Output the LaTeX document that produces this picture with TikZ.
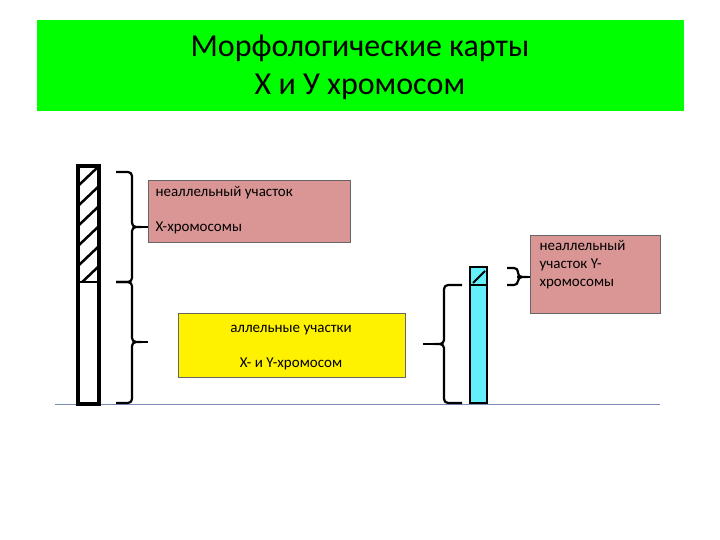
\documentclass[tikz,border=0pt]{standalone}
\usepackage{fontspec}
\setmainfont{Carlito}
\usetikzlibrary{patterns}
\begin{document}
\begin{tikzpicture}[x=1pt,y=-1pt,
  br/.style={line width=2.2pt,rounded corners=4pt},
  lbl/.style={draw=black!60,line width=0.6pt,inner sep=0pt,anchor=north west},
  tx/.style={font=\fontsize{15}{18}\selectfont,align=left}]
\useasboundingbox (0,0) rectangle (720,540);
\fill[white] (0,0) rectangle (720,540);
% title
\node[fill=green!90!black,fill=green,minimum width=647pt,minimum height=91pt,anchor=north west,inner sep=0pt] (title) at (37,20) {};
\node[font=\fontsize{32}{38}\selectfont,align=center] at (360,67) {Морфологические карты\\X и У хромосом};
% baseline
\draw[color={rgb,255:red,120;green,140;blue,180},line width=0.8pt] (55,404) -- (660,404);
% X chromosome
\fill[white] (78,166) rectangle (99,404);
\begin{scope}
\clip (78,166) rectangle (99,282);
\foreach \k in {0,...,7} \draw[line width=2.5pt] (78,{186+\k*20}) -- (99,{166+\k*20});
\end{scope}
\draw[line width=1.8pt] (78,282) -- (99,282);
\draw[line width=4pt] (78,166) rectangle (99,404);
% Y chromosome
\draw[fill={rgb,255:red,100;green,240;blue,250},line width=2pt] (470,267) rectangle (487,403);
\draw[line width=1.5pt] (470,285) -- (487,285);
\draw[line width=1.8pt] (473,283) -- (485,271);
% boxes
\node[lbl,fill={rgb,255:red,218;green,150;blue,148},minimum width=202pt,minimum height=62pt] (b1) at (148,180) {};
\node[tx,anchor=north west] at (152,183) {неаллельный участок};
\node[tx,anchor=north west] at (152,218) {X-хромосомы};
\node[lbl,fill={rgb,255:red,218;green,150;blue,148},minimum width=130pt,minimum height=78pt] (b2) at (530,235) {};
\node[tx,anchor=north west] at (536,237) {неаллельный\\участок Y-\\хромосомы};
\node[lbl,fill=yellow,minimum width=227pt,minimum height=64pt] (b3) at (178,313) {};
\node[tx] at (291,330) {аллельные участки};
\node[tx] at (291,364) {X- и Y-хромосом};
% braces X
\draw[br] (116,172) -- (132,172) -- (132,227) -- (137,227) -- (132,227) -- (132,282) -- (116,282);
\draw[line width=2.2pt] (137,227) -- (148,227);
\draw[br] (116,282) -- (132,282) -- (132,342) -- (137,342) -- (132,342) -- (132,403) -- (116,403);
\draw[line width=2.2pt] (137,342) -- (148,342);
% braces Y
\draw[br] (462,285) -- (444,285) -- (444,344) -- (439,344) -- (444,344) -- (444,403) -- (462,403);
\draw[line width=2.2pt] (439,344) -- (423,344);
\draw[br] (507,268) -- (518,268) -- (518,277) -- (521,277) -- (518,277) -- (518,285) -- (507,285);
\draw[line width=2.2pt] (521,277) -- (530,277);
\end{tikzpicture}
\end{document}
